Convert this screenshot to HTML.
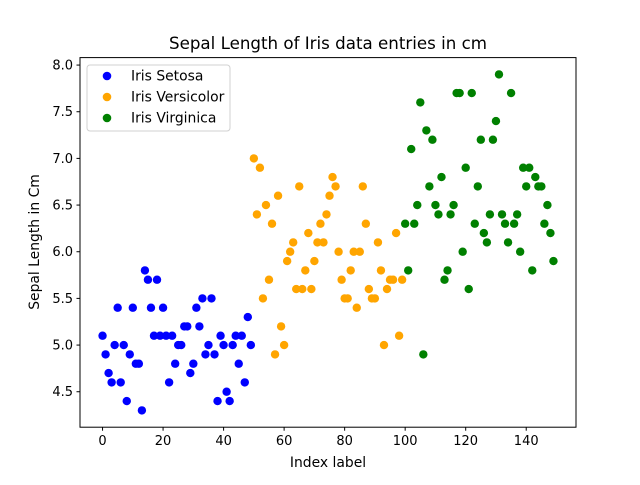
<!DOCTYPE html>
<html><head><meta charset="utf-8"><style>
body{margin:0;background:#fff;}
svg{font-family:"DejaVu Sans","Liberation Sans",sans-serif;}
</style></head><body>
<svg id="chart" width="640" height="480" xmlns="http://www.w3.org/2000/svg">
<rect width="640" height="480" fill="#fff"/>
<text x="328" y="49" text-anchor="middle" font-size="16.7" textLength="318" lengthAdjust="spacingAndGlyphs">Sepal Length of Iris data entries in cm</text>
<g id="plot"></g>
<rect x="80" y="57.6" width="496" height="369.6" fill="none" stroke="#000" stroke-width="1"/>
<text x="328" y="467" text-anchor="middle" font-size="13.9">Index label</text>
<text transform="translate(39,242) rotate(-90)" text-anchor="middle" font-size="13.9">Sepal Length in Cm</text>
<g>
<rect x="87" y="65" width="143" height="66" rx="3" fill="#fff" stroke="#ccc" opacity="0.9"/>
<circle cx="107" cy="76" r="4.3" fill="blue"/>
<text x="131" y="80.5" font-size="13.9">Iris Setosa</text>
<circle cx="107" cy="97" r="4.3" fill="orange"/>
<text x="131" y="101.5" font-size="13.9">Iris Versicolor</text>
<circle cx="107" cy="118" r="4.3" fill="green"/>
<text x="131" y="122.5" font-size="13.9">Iris Virginica</text>
</g>
</svg>
<script>
const setosa=[5.1,4.9,4.7,4.6,5.0,5.4,4.6,5.0,4.4,4.9,5.4,4.8,4.8,4.3,5.8,5.7,5.4,5.1,5.7,5.1,5.4,5.1,4.6,5.1,4.8,5.0,5.0,5.2,5.2,4.7,4.8,5.4,5.2,5.5,4.9,5.0,5.5,4.9,4.4,5.1,5.0,4.5,4.4,5.0,5.1,4.8,5.1,4.6,5.3,5.0];
const versicolor=[7.0,6.4,6.9,5.5,6.5,5.7,6.3,4.9,6.6,5.2,5.0,5.9,6.0,6.1,5.6,6.7,5.6,5.8,6.2,5.6,5.9,6.1,6.3,6.1,6.4,6.6,6.8,6.7,6.0,5.7,5.5,5.5,5.8,6.0,5.4,6.0,6.7,6.3,5.6,5.5,5.5,6.1,5.8,5.0,5.6,5.7,5.7,6.2,5.1,5.7];
const virginica=[6.3,5.8,7.1,6.3,6.5,7.6,4.9,7.3,6.7,7.2,6.5,6.4,6.8,5.7,5.8,6.4,6.5,7.7,7.7,6.0,6.9,5.6,7.7,6.3,6.7,7.2,6.2,6.1,6.4,7.2,7.4,7.9,6.4,6.3,6.1,7.7,6.3,6.4,6.0,6.9,6.7,6.9,5.8,6.8,6.7,6.7,6.3,6.5,6.2,5.9];
const xTicks=[0,20,40,60,80,100,120,140];
const yTicks=[4.5,5.0,5.5,6.0,6.5,7.0,7.5,8.0];
const NS="http://www.w3.org/2000/svg";
const g=document.getElementById('plot');
const all=setosa.concat(versicolor,virginica);
const n=all.length;
let ymin=Math.min(...all),ymax=Math.max(...all);
const xm=(n-1)*0.05, ym=(ymax-ymin)*0.05;
const x0=-xm,x1=n-1+xm,y0=ymin-ym,y1=ymax+ym;
const L=80,R=576,T=57.6,B=427.2;
function sx(v){return L+(v-x0)/(x1-x0)*(R-L);}
function sy(v){return B-(v-y0)/(y1-y0)*(B-T);}
function mk(tag,attrs){const e=document.createElementNS(NS,tag);for(const k in attrs)e.setAttribute(k,attrs[k]);g.appendChild(e);return e;}
xTicks.forEach(t=>{
  const l=mk('line',{x1:sx(t),x2:sx(t),y1:B,y2:B+3.5,stroke:'#000'});
  
  
  const tx=mk('text',{x:sx(t),y:B+18,'text-anchor':'middle','font-size':'13'});
  tx.textContent=t;
  
  
});
yTicks.forEach(t=>{
  const l=mk('line',{x1:L-3.5,x2:L,y1:sy(t),y2:sy(t),stroke:'#000'});
  
  
  const tx=mk('text',{x:L-7,y:sy(t)+4.5,'text-anchor':'end','font-size':'13'});
  tx.textContent=t.toFixed(1);
  
  
});
[[setosa,'blue',0,'setosa'],[versicolor,'orange',50,'versicolor'],[virginica,'green',100,'virginica']].forEach(([arr,c,off,nm])=>{
  arr.forEach((v,i)=>{
    const p=mk('circle',{cx:sx(i+off),cy:sy(v),r:4.2,fill:c});
    
    
  });
});
</script>
</body></html>
